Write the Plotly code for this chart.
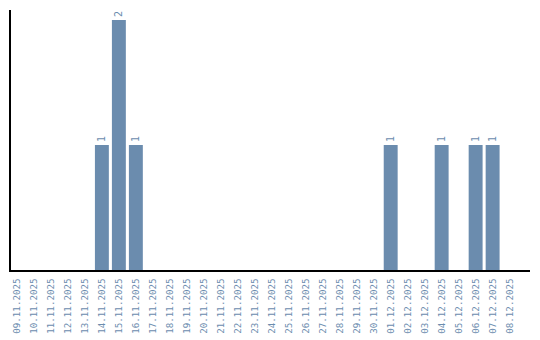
import plotly.graph_objects as go

dates = ["09.11.2025","10.11.2025","11.11.2025","12.11.2025","13.11.2025","14.11.2025",
         "15.11.2025","16.11.2025","17.11.2025","18.11.2025","19.11.2025","20.11.2025",
         "21.11.2025","22.11.2025","23.11.2025","24.11.2025","25.11.2025","26.11.2025",
         "27.11.2025","28.11.2025","29.11.2025","30.11.2025","01.12.2025","02.12.2025",
         "03.12.2025","04.12.2025","05.12.2025","06.12.2025","07.12.2025","08.12.2025"]
counts = [0,0,0,0,0,1,2,1,0,0,0,0,0,0,0,0,0,0,0,0,0,0,1,0,0,1,0,1,1,0]
labels = [str(c) if c > 0 else "" for c in counts]

bar_color = "#6b8cae"
font_fam = "DejaVu Sans Mono, monospace"

fig = go.Figure(go.Bar(
    x=dates, y=counts, text=labels, textposition="outside", textangle=-90,
    textfont=dict(family=font_fam, size=10, color=bar_color),
    marker=dict(color=bar_color, line=dict(width=0)),
    cliponaxis=False,
))
fig.update_layout(
    width=540, height=340, margin=dict(l=11, r=10, t=10, b=70, autoexpand=False),
    plot_bgcolor="white", paper_bgcolor="white", bargap=0.18, showlegend=False,
    font=dict(family=font_fam, size=10, color=bar_color),
)
fig.update_xaxes(type="category", range=[-0.35, 30.2], showline=True, linecolor="black",
                 linewidth=1.5, showgrid=False, ticks="", tickangle=-90, automargin=False,
                 ticklabelstandoff=3,
                 tickfont=dict(family=font_fam, size=9.2, color=bar_color))
fig.update_yaxes(range=[0, 2.08], showline=True, linecolor="black", linewidth=1.5,
                 showgrid=False, zeroline=False, showticklabels=False, ticks="", automargin=False)
fig.write_html("out.html")
